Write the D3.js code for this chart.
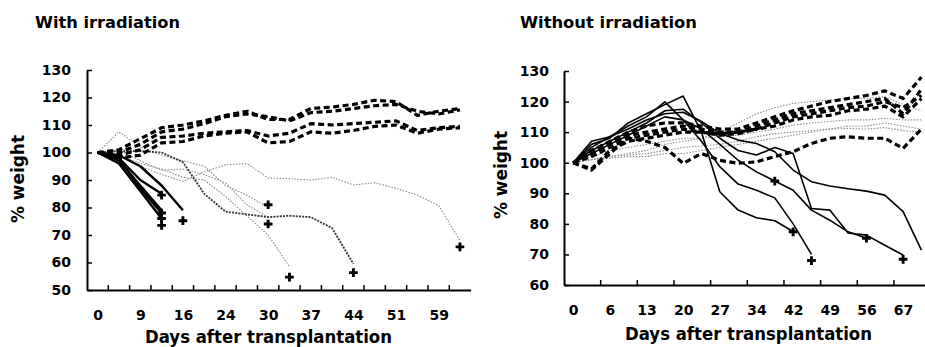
<!DOCTYPE html>
<html>
<head>
<meta charset="utf-8">
<script src="https://cdn.jsdelivr.net/npm/d3@7/dist/d3.min.js"></script>
<style>
  body { margin: 0; background: #fff; }
  text { font-family: "DejaVu Sans", Verdana, sans-serif; font-weight: bold; fill: #000; }
</style>
</head>
<body>
<div id="chart"></div>
<script>
// ---- data: With irradiation ----
const leftDays = [0, 5, 9, 13, 16, 20, 24, 27, 30, 34, 37, 41, 44, 48, 51, 55, 59, 63];
const leftYTicks = [50, 60, 70, 80, 90, 100, 110, 120, 130];

// surviving mice (dashed)
const leftDashed = [
  [100, 101, 105, 109, 110, 111.5, 113.5, 115, 112, 112, 116, 116.5, 117.5, 119, 118.5, 113.5, 115, 116],
  [100, 100, 103, 107.5, 108.5, 110.5, 113, 114, 113, 111.5, 114.5, 115, 116, 117, 117.5, 115, 114, 115.5],
  [100, 99, 101, 105.5, 106, 107, 107.5, 108, 106, 107, 110.5, 110, 110.5, 111, 111.5, 108, 109, 109.5],
  [100, 98, 99, 103.5, 104, 106, 107, 107.5, 103.5, 104, 107.5, 107, 108, 109.5, 110, 107, 108.5, 109]
];
// early deaths (solid)
const leftSolid = [
  [100, 98, 87, 78],
  [100, 97, 88, 79],
  [100, 96, 86, 76],
  [100, 98, 90, 85],
  [100, 99, 95, 88, 79]
];
// dark dotted
const leftDarkDotted = [
  [100, 100.5, 100.5, 100, 96.5, 85, 78.5, 77.5, 76.5, 77, 76.5, 72.5, 59.5]
];
// light dotted
const leftDotted = [
  [100, 99, 95, 92, 89.5, 93, 95.5, 96, 90.7, 90.5, 90, 91, 88.2, 89, 87, 84.5, 80.7, 68],
  [100, 107.5, 102, 99, 97, 95, 88, 84.5, 80],
  [100, 101, 97, 93.5, 94, 92, 89, 81, 76.5],
  [100, 99, 96, 94, 91, 90, 84, 77, 70, 58.5]
];
// day of death, last weight
const leftDeathDays = [13, 13, 13, 13, 16, 30, 30, 34, 44, 63];
const leftDeathWeights = [84.5, 78, 76, 73.5, 75.2, 81, 74, 54.7, 56.3, 65.7];

// ---- data: Without irradiation ----
const rightDays = [0, 3, 6, 10, 13, 17, 20, 24, 27, 31, 34, 38, 42, 45, 49, 52, 56, 60, 67, 70];
const rightYTicks = [60, 70, 80, 90, 100, 110, 120, 130];

const rightDashed = [
  [100, 104, 107, 110, 112, 113, 113, 112, 111, 111, 113, 115, 117, 118.5, 120, 121, 122, 123.5, 121, 128],
  [100, 103, 106, 109, 110, 111, 112, 111, 110, 110, 112, 114, 116, 117, 118, 119, 120, 121, 116, 124],
  [100, 102, 105, 108, 109, 110, 111, 110, 109, 109.5, 111, 113, 115, 116, 117, 118, 118.5, 120, 118, 122],
  [100, 98, 104, 107, 108, 109, 110, 110, 109.5, 110, 111, 112, 114, 115, 115.5, 117, 117.5, 118.5, 115, 121],
  [100, 97.6, 103, 108, 107, 105, 99.8, 103, 100.8, 99.8, 100.3, 102, 103.6, 106.3, 108, 108.5, 108, 108, 104.7, 111]
];
const rightSolid = [
  [100, 106, 108, 113, 116, 119, 121.8, 110, 90.5, 84.5, 82, 81, 77.5],
  [100, 105, 108.5, 112, 115, 119.9, 114, 107, 98.7, 93, 91, 88.5, 80, 70],
  [100, 107, 108.5, 111, 114, 116, 116.5, 113.5, 109.6, 107.4, 106.3, 103.6, 97.6, 93.8, 92.4, 91.5, 90.7, 89.4, 84, 71.4],
  [100, 104, 107, 110, 113, 117, 117.5, 113, 108, 104, 102.5, 105, 103, 85, 84.5, 77, 76.3, 73, 69.8],
  [100, 103, 106, 109, 112, 115, 114, 111, 106, 100.8, 97, 94, 91, 84.5, 81.2, 77.4, 75.3]
];
const rightDotted = [
  [100, 101, 102, 103, 104, 106, 107, 108, 110, 113, 116, 118, 119.4, 120, 120.5, 121, 121, 121.6, 119, 117],
  [100, 102, 104, 105, 106, 107, 108, 108, 108.5, 109, 110, 111, 112.3, 113, 113.5, 114, 114, 114.5, 114, 114],
  [100, 101, 102, 102.5, 103, 104, 105, 105.5, 106, 107, 108.5, 109.5, 110, 110.5, 111, 111.2, 111, 111.5, 110.5, 110],
  [100, 101, 101.5, 102, 102, 103, 103, 104, 105, 106, 107, 108, 109, 110, 111, 112, 112, 113, 112, 111]
];
const rightDeathDays = [38, 42, 45, 56, 67];
const rightDeathWeights = [94, 77.4, 68, 75.3, 68.4];

// ---- drawing ----
const svg = d3.select("#chart")
  .append("svg")
  .attr("width", 925)
  .attr("height", 347)
  .style("display", "block");

svg.append("rect").attr("width", 925).attr("height", 347).attr("fill", "#fff");

function drawPanel(p) {
  const x = d3.scalePoint().domain(p.days).range([p.left, p.right]).padding(0.5);
  const y = d3.scaleLinear()
    .domain([p.yTicks[0], p.yTicks[p.yTicks.length - 1]])
    .range([p.bottom, p.top]);
  const step = x.step();
  const g = svg.append("g");

  const line = d3.line()
    .defined(d => d != null)
    .x((d, i) => x(p.days[i]))
    .y(d => y(d));

  // series
  p.series.forEach(s => {
    g.append("g").selectAll("path")
      .data(s.data)
      .join("path")
      .attr("fill", "none")
      .attr("stroke", s.color)
      .attr("stroke-width", s.width)
      .attr("stroke-dasharray", s.dash)
      .attr("stroke-linejoin", "round")
      .attr("d", line);
  });

  // death markers
  g.append("g").selectAll("path")
    .data(p.deathDays)
    .join("path")
    .attr("transform", (d, i) => `translate(${x(d)},${y(p.deathWeights[i])})`)
    .attr("d", d3.symbol().type(d3.symbolCross).size(42))
    .attr("fill", "#000");

  // x axis
  const xAxis = g.append("g")
    .attr("transform", `translate(0,${p.bottom})`)
    .call(d3.axisBottom(x).tickSize(0).tickSizeOuter(0).tickPadding(p.xPad)
      .tickFormat((d, i) => i % 2 ? "" : d));
  xAxis.select(".domain").attr("stroke", "#000").attr("stroke-width", 2);
  xAxis.selectAll("text").style("font-size", "14px").style("font-family", null);
  xAxis.attr("font-family", null);

  // tick marks between categories
  const bounds = p.days.map(d => x(d) - step / 2).filter((b, i) => i > 0 && i % p.tickEvery === 0);
  g.append("g").selectAll("line")
    .data(bounds)
    .join("line")
    .attr("x1", d => d).attr("x2", d => d)
    .attr("y1", p.bottom).attr("y2", p.bottom - 5)
    .attr("stroke", "#000").attr("stroke-width", 1.5);

  // y axis
  const yAxis = g.append("g")
    .attr("transform", `translate(${p.left},0)`)
    .call(d3.axisLeft(y).tickValues(p.yTicks).tickSize(-5).tickSizeOuter(0).tickPadding(p.yPad));
  yAxis.select(".domain").attr("stroke", "#000").attr("stroke-width", 2);
  yAxis.selectAll("line").attr("stroke-width", 1.5);
  yAxis.selectAll("text").style("font-size", "14px");
  yAxis.attr("font-family", null);

  // titles
  svg.append("text")
    .attr("x", p.titleX).attr("y", 28)
    .attr("textLength", p.titleLen).attr("lengthAdjust", "spacingAndGlyphs")
    .style("font-size", "16px")
    .text(p.title);

  svg.append("text")
    .attr("x", p.xTitleX).attr("y", p.xTitleY)
    .attr("text-anchor", "middle")
    .attr("textLength", 247).attr("lengthAdjust", "spacingAndGlyphs")
    .style("font-size", "17px")
    .text("Days after transplantation");

  svg.append("text")
    .attr("transform", `translate(${p.yTitleX},${p.yTitleY}) rotate(-90)`)
    .attr("text-anchor", "middle")
    .attr("textLength", 88).attr("lengthAdjust", "spacingAndGlyphs")
    .style("font-size", "17px")
    .text("% weight");
}

drawPanel({
  days: leftDays, yTicks: leftYTicks,
  left: 87, right: 470.6, top: 70, bottom: 290,
  xPad: 20, yPad: 16, tickEvery: 1,
  title: "With irradiation", titleX: 35, titleLen: 145,
  xTitleX: 268.5, xTitleY: 343, yTitleX: 24, yTitleY: 179,
  deathDays: leftDeathDays, deathWeights: leftDeathWeights,
  series: [
    { data: leftDotted, color: "#8a8a8a", width: 1.1, dash: "1.5,1.5" },
    { data: leftDarkDotted, color: "#333", width: 1.8, dash: "2,1.2" },
    { data: leftSolid, color: "#000", width: 2.4, dash: null },
    { data: leftDashed, color: "#000", width: 3.2, dash: "6,3.5" }
  ]
});

drawPanel({
  days: rightDays, yTicks: rightYTicks,
  left: 564, right: 930.6, top: 71, bottom: 285,
  xPad: 20, yPad: 15, tickEvery: 2,
  title: "Without irradiation", titleX: 520, titleLen: 177,
  xTitleX: 748.5, xTitleY: 340, yTitleX: 507, yTitleY: 175,
  deathDays: rightDeathDays, deathWeights: rightDeathWeights,
  series: [
    { data: rightDotted, color: "#8a8a8a", width: 1.1, dash: "1.5,1.5" },
    { data: rightSolid, color: "#000", width: 1.6, dash: null },
    { data: rightDashed, color: "#000", width: 3.2, dash: "6,3.5" }
  ]
});
</script>
</body>
</html>
